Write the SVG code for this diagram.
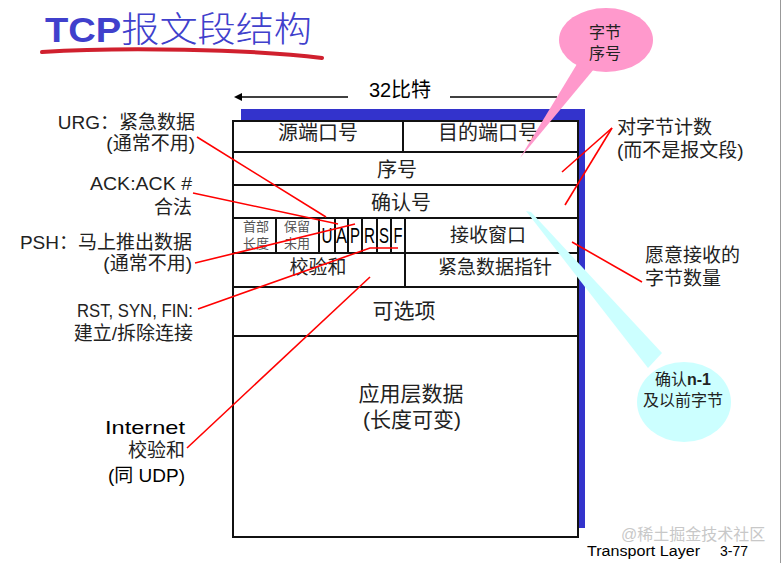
<svg xmlns="http://www.w3.org/2000/svg" width="782" height="563" viewBox="0 0 782 563">
  <style>
    text { font-family: "Liberation Sans", "Noto Sans CJK SC", sans-serif; fill: #222; dominant-baseline: central; }
    .cell { font-size: 20px; text-anchor: middle; }
    .small { font-size: 13px; text-anchor: middle; fill: #555; }
    .flag { font-size: 22px; text-anchor: middle; fill: #000; }
    .lbl { font-size: 19px; text-anchor: end; }
    .rlbl { font-size: 19px; text-anchor: start; }
    .grid { stroke: #111; stroke-width: 2; fill: none; }
    .red { stroke: #ff0000; stroke-width: 1.6; fill: none; }
    .callout { font-size: 16px; text-anchor: middle; }
  </style>
  <defs>
    <marker id="ah" viewBox="0 0 10 10" refX="0" refY="5" markerWidth="10" markerHeight="8" markerUnits="userSpaceOnUse" orient="auto-start-reverse">
      <path d="M0,0 L10,5 L0,10 Z" fill="#000"/>
    </marker>
  </defs>

  <rect x="0" y="0" width="782" height="563" fill="#fff"/>
  <line x1="780.5" y1="0" x2="780.5" y2="563" stroke="#999" stroke-width="1"/>

  <g id="title">
    <text x="45" y="29" textLength="267" lengthAdjust="spacingAndGlyphs" style="font-size:35px;fill:#4040cc"><tspan style="font-weight:bold">TCP</tspan><tspan style="font-weight:300">报文段结构</tspan></text>
    <path d="M42,52 C120,47 250,49 322,58" stroke="#d0202e" stroke-width="4" fill="none" stroke-linecap="round"/>
  </g>

  <g id="width-arrow">
    <line x1="348" y1="97" x2="242" y2="97" stroke="#000" stroke-width="1.5" marker-end="url(#ah)"/>
    <line x1="450" y1="97" x2="557" y2="97" stroke="#000" stroke-width="1.5"/>
    <text x="400" y="90" style="font-size:20px;text-anchor:middle;fill:#000">32比特</text>
  </g>

  <g id="segment">
    <rect x="241" y="109" width="344" height="419" fill="#3333cc"/>
    <rect x="233" y="121" width="345" height="416" fill="#fff" stroke="#111" stroke-width="2"/>
    <line class="grid" x1="233" y1="152" x2="578" y2="152"/>
    <line class="grid" x1="233" y1="185" x2="578" y2="185"/>
    <line class="grid" x1="233" y1="218" x2="578" y2="218" stroke-width="2.5"/>
    <line class="grid" x1="233" y1="253" x2="578" y2="253"/>
    <line class="grid" x1="233" y1="287" x2="578" y2="287"/>
    <line class="grid" x1="233" y1="336" x2="578" y2="336"/>
    <line class="grid" x1="403" y1="121" x2="403" y2="152"/>
    <line class="grid" x1="276" y1="218" x2="276" y2="253"/>
    <line class="grid" x1="319" y1="218" x2="319" y2="253"/>
    <line class="grid" x1="335" y1="218" x2="335" y2="253"/>
    <line class="grid" x1="348" y1="218" x2="348" y2="253"/>
    <line class="grid" x1="362" y1="218" x2="362" y2="253"/>
    <line class="grid" x1="377" y1="218" x2="377" y2="253"/>
    <line class="grid" x1="391" y1="218" x2="391" y2="253"/>
    <line class="grid" x1="405" y1="218" x2="405" y2="287"/>

    <g id="src-port"><text class="cell" x="318" y="133">源端口号</text></g>
    <g id="dst-port"><text class="cell" x="488" y="133">目的端口号</text></g>
    <g id="seq"><text class="cell" x="397" y="170">序号</text></g>
    <g id="ack"><text class="cell" x="401" y="203">确认号</text></g>
    <g id="hdr-len"><text class="small" x="256" y="226">首部</text><text class="small" x="256" y="243">长度</text></g>
    <g id="reserved"><text class="small" x="297" y="226">保留</text><text class="small" x="297" y="243">未用</text></g>
    <g id="flags">
      <text class="flag" x="327" y="235" textLength="11" lengthAdjust="spacingAndGlyphs">U</text>
      <text class="flag" x="341.5" y="235" textLength="11" lengthAdjust="spacingAndGlyphs">A</text>
      <text class="flag" x="355" y="235" textLength="10" lengthAdjust="spacingAndGlyphs">P</text>
      <text class="flag" x="369.5" y="235" textLength="11" lengthAdjust="spacingAndGlyphs">R</text>
      <text class="flag" x="384" y="235" textLength="10" lengthAdjust="spacingAndGlyphs">S</text>
      <text class="flag" x="398" y="235" textLength="9" lengthAdjust="spacingAndGlyphs">F</text>
    </g>
    <g id="rwnd"><text class="cell" x="488" y="235" style="font-size:19px">接收窗口</text></g>
    <g id="checksum"><text class="cell" x="318" y="267" style="font-size:19px">校验和</text></g>
    <g id="urg-ptr"><text class="cell" x="495" y="267" style="font-size:19px">紧急数据指针</text></g>
    <g id="options"><text class="cell" x="404" y="310" style="font-size:21px">可选项</text></g>
    <g id="data">
      <text class="cell" x="411" y="393" style="font-size:21px">应用层数据</text>
      <text class="cell" x="412" y="419" style="font-size:21px">(长度可变)</text>
    </g>
  </g>

  <g id="connectors">
    <line class="red" x1="197" y1="137" x2="326" y2="217"/>
    <line class="red" x1="193" y1="193" x2="338" y2="224"/>
    <line class="red" x1="195" y1="263" x2="355" y2="224"/>
    <polyline class="red" points="198,309 370,248 398,248"/>
    <line class="red" x1="187" y1="448" x2="370" y2="277"/>
    <line class="red" x1="612" y1="128" x2="562" y2="172"/>
    <line class="red" x1="612" y1="128" x2="565" y2="205"/>
    <line class="red" x1="642" y1="282" x2="572" y2="242"/>
  </g>

  <g id="label-urg">
    <text class="lbl" x="195" y="122">URG：紧急数据</text>
    <text class="lbl" x="195" y="143">(通常不用)</text>
  </g>
  <g id="label-ack">
    <text class="lbl" x="192" y="183" textLength="102" lengthAdjust="spacingAndGlyphs">ACK:ACK #</text>
    <text class="lbl" x="192" y="207">合法</text>
  </g>
  <g id="label-psh">
    <text class="lbl" x="192" y="242">PSH：马上推出数据</text>
    <text class="lbl" x="192" y="263">(通常不用)</text>
  </g>
  <g id="label-rst">
    <text class="lbl" x="193" y="310" textLength="116" lengthAdjust="spacingAndGlyphs">RST, SYN, FIN:</text>
    <text class="lbl" x="193" y="333">建立/拆除连接</text>
  </g>
  <g id="label-internet">
    <text class="lbl" x="185" y="427" textLength="80" lengthAdjust="spacingAndGlyphs" style="fill:#000">Internet</text>
    <text class="lbl" x="185" y="450">校验和</text>
    <text class="lbl" x="185" y="475" style="fill:#000">(同 UDP)</text>
  </g>
  <g id="label-bytes">
    <text class="rlbl" x="617" y="127">对字节计数</text>
    <text class="rlbl" x="617" y="150">(而不是报文段)</text>
  </g>
  <g id="label-window">
    <text class="rlbl" x="645" y="255">愿意接收的</text>
    <text class="rlbl" x="645" y="278">字节数量</text>
  </g>

  <g id="callout-seq">
    <polygon points="577,64 594,69 520,158" fill="#ff99cc"/>
    <ellipse cx="606" cy="40" rx="47" ry="32" fill="#ff99cc"/>
    <text class="callout" x="605" y="32">字节</text>
    <text class="callout" x="605" y="53">序号</text>
  </g>

  <g id="callout-ack">
    <polygon points="526,211 531,212 662,353 648,368" fill="#ccffff"/>
    <ellipse cx="684" cy="402" rx="47" ry="40" fill="#ccffff"/>
    <text class="callout" x="683" y="379">确认<tspan style="font-weight:bold">n-1</tspan></text>
    <text class="callout" x="683" y="400">及以前字节</text>
  </g>

  <g id="footer">
    <text x="621" y="534" style="font-size:16px;fill:#c8c8c8">@稀土掘金技术社区</text>
    <text x="587" y="551" textLength="113" lengthAdjust="spacingAndGlyphs" style="font-size:14px;fill:#000">Transport Layer</text>
    <text x="720" y="551" style="font-size:14px;fill:#000">3-77</text>
  </g>
</svg>
